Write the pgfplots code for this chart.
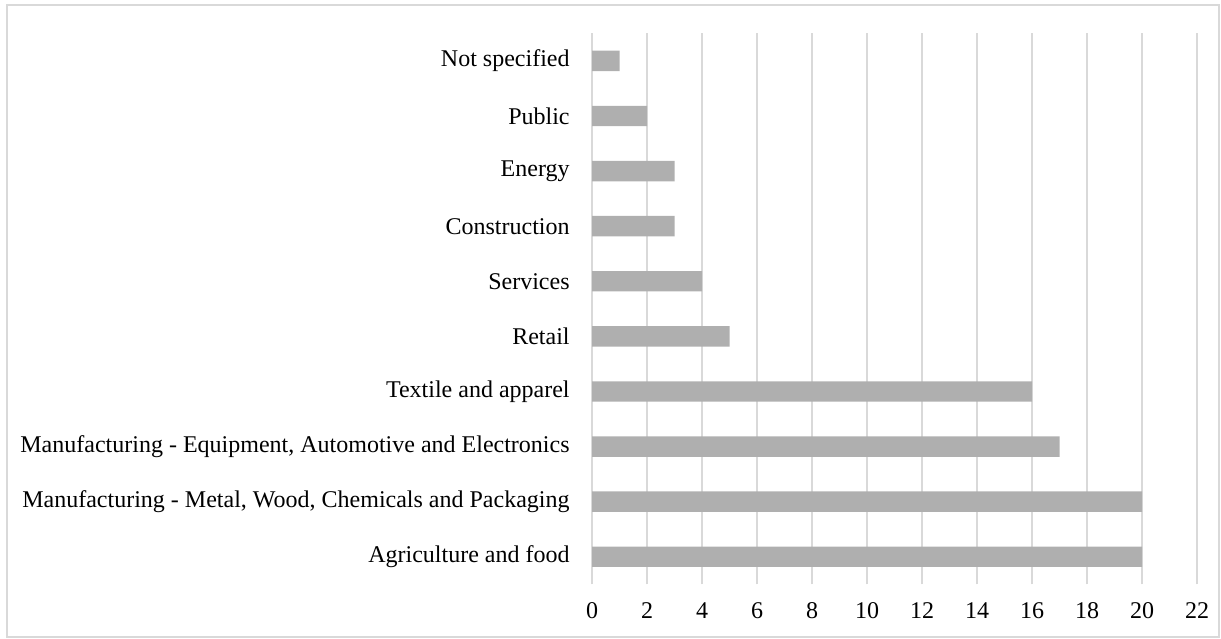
\documentclass[border=0pt]{standalone}
\usepackage{fontspec}
\setmainfont{Liberation Serif}
\usepackage{pgfplots}
\pgfplotsset{compat=1.18}
\definecolor{barc}{RGB}{175,175,175}
\definecolor{gridc}{RGB}{217,217,217}
\begin{document}
\begin{tikzpicture}
\useasboundingbox (0pt,0pt) rectangle (915.75pt,479.25pt);
\draw[gridc, line width=1.5pt] (5.25pt,1.5pt) rectangle (914.25pt,475.5pt);
\begin{axis}[
  at={(444pt,41pt)}, anchor=south west,
  scale only axis, width=453.75pt, height=413.25pt,
  xbar, xmin=0, xmax=22, ymin=-0.5, ymax=9.5,
  xtick={0,2,...,22}, ytick={0,...,9},
  yticklabels={Agriculture and food,{Manufacturing - Metal, Wood, Chemicals and Packaging},{Manufacturing - Equipment, Automotive and Electronics},Textile and apparel,Retail,Services,Construction,Energy,Public,Not specified},
  bar width=0.37,
  axis line style={draw=none}, tick style={draw=none},
  xmajorgrids, grid style={gridc, line width=1pt},
  /pgf/number format/assume math mode=true,
  ticklabel style={font=\fontsize{18}{20}\selectfont},
  yticklabel style={xshift=-9pt},
  xticklabel style={yshift=-10pt},
]
\addplot[fill=barc, draw=none] coordinates {(20,0) (20,1) (17,2) (16,3) (5,4) (4,5) (3,6) (3,7) (2,8) (1,9)};
\end{axis}
\end{tikzpicture}
\end{document}
